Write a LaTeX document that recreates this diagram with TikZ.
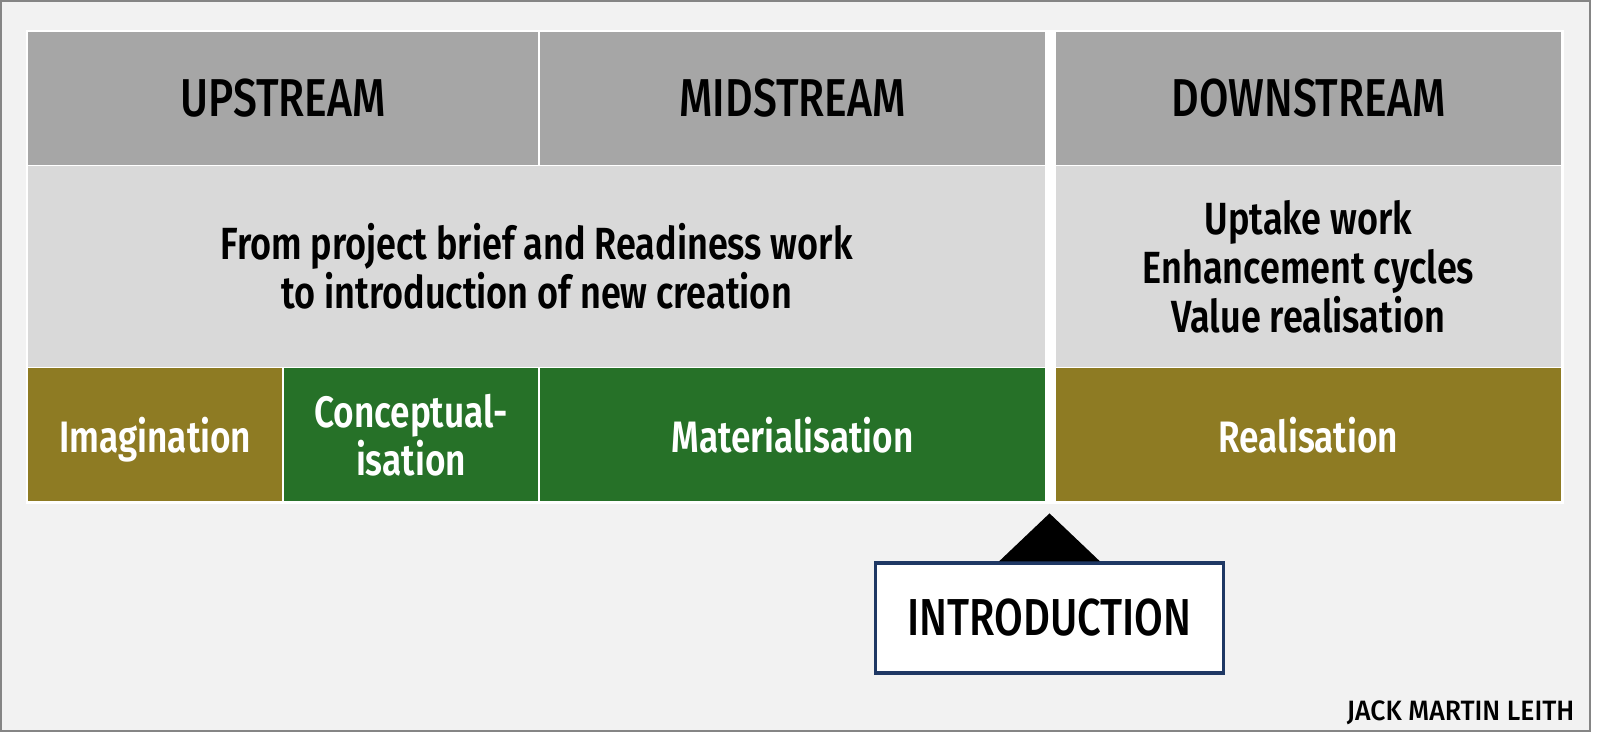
\documentclass[tikz,border=0pt]{standalone}
\usepackage{fontspec}
\setmainfont{Fira Sans}[FakeStretch=0.8, BoldFont={Fira Sans SemiBold}]
\newfontfamily\medfont{Fira Sans Medium}[FakeStretch=0.8]
\newfontfamily\signfont{Fira Sans Medium}[FakeStretch=0.95]

\definecolor{panelgray}{HTML}{F2F2F2}
\definecolor{framegray}{HTML}{858585}
\definecolor{headgray}{HTML}{A6A6A6}
\definecolor{bodygray}{HTML}{D9D9D9}
\definecolor{phaseolive}{HTML}{8E7B23}
\definecolor{phasegreen}{HTML}{267128}
\definecolor{introblue}{HTML}{1F3864}

\begin{document}
\begin{tikzpicture}[x=0.75pt,y=0.75pt,yscale=-1,xscale=1,
    cell/.style={rectangle, draw=white, line width=1.2pt, inner sep=0pt, align=center},
    headcell/.style={cell, fill=headgray, minimum height=134*0.75pt, font=\medfont\fontsize{40}{44}\selectfont},
    bodycell/.style={cell, fill=bodygray, minimum height=202*0.75pt, font=\bfseries\fontsize{33.8}{36.75}\selectfont},
    phasecell/.style={cell, text=white, minimum height=134.5*0.75pt, text depth=0pt, font=\bfseries\fontsize{33}{36}\selectfont}]
            \useasboundingbox (0,0) rectangle (1600,745);

            %Shape: Rectangle [panel]
            \draw [color=framegray, fill=panelgray, line width=1.2pt] (1,1) rectangle (1590,731) ;
            %Shape: Rectangle [white backing of the table]
            \fill [white] (26,30) rectangle (1563.5,503.5) ;

            % Header row
            \node[headcell, minimum width=511.5*0.75pt] (up) at (283.25,98.5) {UPSTREAM};
            \node[headcell, minimum width=507*0.75pt] (mid) at (792.5,98.5) {MIDSTREAM};
            \node[headcell, minimum width=507*0.75pt] (down) at (1308.5,98.5) {DOWNSTREAM};

            % Body row
            \node[bodycell, minimum width=1018.5*0.75pt] (brief) at (536.75,266.5) {From project brief and Readiness work\\to introduction of new creation};
            \node[bodycell, minimum width=507*0.75pt] (uptake) at (1308.5,266.5) {Uptake work\\Enhancement cycles\\Value realisation};

            % Phase row
            \node[phasecell, fill=phaseolive, minimum width=255.5*0.75pt] (imag) at (155.25,434.75) {Imagination};
            \node[phasecell, fill=phasegreen, minimum width=256*0.75pt] (concept) at (411,434.75) {Conceptual-\\isation};
            \node[phasecell, fill=phasegreen, minimum width=507*0.75pt] (mater) at (792.5,434.75) {Materialisation};
            \node[phasecell, fill=phaseolive, minimum width=507*0.75pt] (real) at (1308.5,434.75) {Realisation};

            % Text Node
            \node[rectangle, draw=introblue, fill=white, line width=2.4pt, inner sep=0pt,
                  minimum width=348*0.75pt, minimum height=110*0.75pt,
                  font=\medfont\fontsize{39}{40}\selectfont] (intro) at (1049.5,618) {INTRODUCTION};
            %Shape: Triangle
            \fill (intro.north) ++(-50.5,0) -- ++(50.5,-48) -- ++(50.5,48) -- cycle ;

            % Text Node
            \node[anchor=base east, font=\signfont\fontsize{21}{24}\selectfont] (author) at (1579,720) {JACK MARTIN LEITH};

        \end{tikzpicture}
\end{document}
